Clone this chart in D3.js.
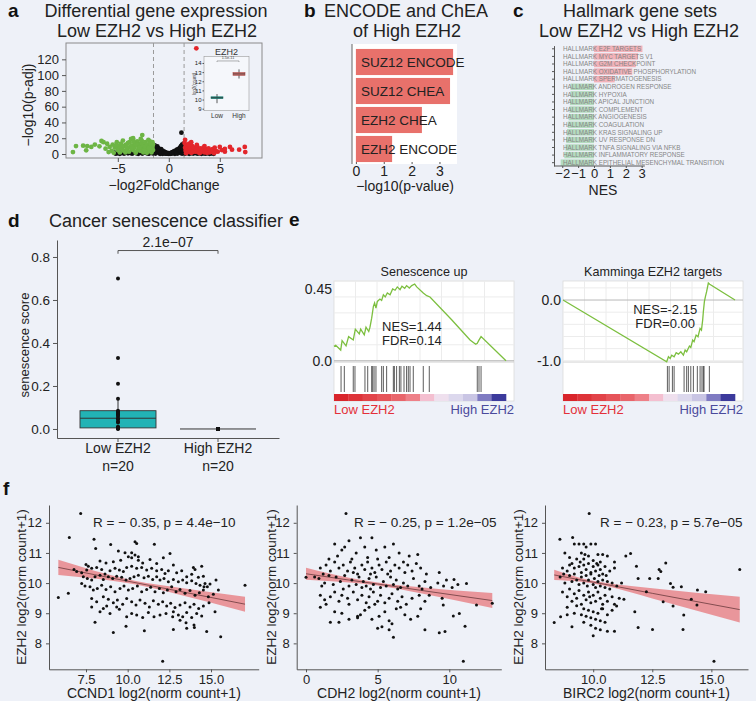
<!DOCTYPE html>
<html>
<head>
<meta charset="utf-8">
<script src="https://cdn.jsdelivr.net/npm/d3@7"></script>
<style>
body {margin:0; background:#eef1f8;}
svg {display:block;}
</style>
</head>
<body>
<svg id="figure"></svg>
<script>
// ---- panel a: volcano ----
var volcanoDown = [[-9.4,2.5],[-9.1,10],[-8.4,10.6],[-8.0,10],[-8.1,4.7],[-7.6,9],[-7.25,12],[-6.8,9.7],[-6.6,16.5],[-6.4,15],[-6.05,13],[-6.2,6.8],[-5.8,9],[-5.9,2.5],[-5.6,4],[-5.5,12],[-5.4,1.5],[-5.3,8],[-5.1,15],[-5.0,5],[-4.95,7.5],[-4.9,10],[-4.8,2],[-4.7,13],[-4.6,7],[-4.5,17],[-4.4,4],[-4.3,10],[-4.25,2],[-4.2,12],[-4.1,6],[-4.0,14],[-3.9,3],[-3.85,15],[-3.8,9],[-3.7,19],[-3.6,11],[-3.5,5],[-3.5,20],[-3.4,8],[-3.3,13],[-3.25,1.5],[-3.2,3],[-3.1,16],[-3.0,6],[-3.0,10],[-2.9,12],[-2.8,4],[-2.75,19],[-2.7,14],[-2.6,24],[-2.6,8],[-2.5,2],[-2.5,11],[-2.4,6],[-2.3,15],[-2.3,9],[-2.2,3],[-2.15,1.5],[-2.1,12],[-2.0,7],[-2.0,18],[-1.9,4],[-1.9,10],[-1.85,16],[-1.8,13],[-1.7,6],[-1.7,2],[-1.6,9],[-1.6,15],[-1.55,5],[-1.55,12],[-4.15,8.5],[-3.65,7],[-3.15,11.5],[-2.85,8],[-2.35,4.5],[-1.95,7.5],[-4.55,10.5],[-5.15,11],[-3.45,16],[-2.65,17]]
var volcanoFlat = [[-5.2,0.4],[-5.0,1.0],[-4.8,0.3],[-4.6,1.5],[-4.4,0.5],[-4.2,2.0],[-4.0,0.8],[-3.8,1.6],[-3.6,0.4],[-3.4,2.4],[-3.2,1.0],[-3.0,0.3],[-2.8,1.8],[-2.6,0.6],[-2.4,2.6],[-2.2,1.2],[-2.0,0.4],[-1.8,2.0],[-1.6,0.8],[-1.5,9],[-1.45,6.5],[-1.42,3.5],[-1.38,11],[-1.32,1.8],[-1.25,8],[-1.2,5],[-1.12,9.5],[-1.05,3],[-1.0,7],[-0.95,1.2],[-0.9,5.5],[-0.82,3.8],[-0.75,6],[-0.7,2.2],[-0.62,4.2],[-0.55,1.5],[-0.5,3.2],[-0.42,0.8],[-0.35,2.3],[-0.28,1.2],[-0.2,0.4],[-0.12,1.4],[-0.05,0.2],[0.05,0.8],[0.12,0.3],[0.2,1.5],[0.28,0.6],[0.35,2.4],[0.42,1.2],[0.5,3.3],[0.58,1.8],[0.65,4.4],[0.72,2.6],[0.8,5.4],[0.88,3.4],[0.95,6.6],[1.0,1.5],[1.05,4.5],[1.1,8],[1.15,2.8],[1.2,10],[1.25,6],[1.3,12],[1.35,3.8],[1.4,8.5],[1.45,13],[1.24,27],[1.6,0.5],[1.8,1.4],[2.0,0.3],[2.2,1.0],[2.4,0.5],[2.6,1.3],[2.8,0.4],[3.0,1.1],[3.2,0.3],[3.4,0.9],[3.6,0.4],[3.8,1.2],[4.0,0.3],[4.2,0.8],[4.4,0.3],[-0.85,0.3],[0.85,0.6],[-1.3,0.5],[1.3,0.4],[-0.6,0.2],[0.6,0.3],[-4.9,2.5],[-4.3,1.2],[-3.7,2.8],[-3.1,2.2],[-2.5,1.6],[-1.9,0.9],[-1.7,3.2],[-1.55,4.5],[-1.48,1.2],[-1.35,6],[-1.18,3.5],[-1.08,6.2],[-0.98,4.2],[-0.88,2.5],[-0.78,1.4],[-0.68,3.3],[-0.46,2.0],[-0.32,0.6],[0.32,1.0],[0.46,2.1],[0.68,3.4],[0.78,1.6],[0.92,4.6],[1.02,5.8],[1.12,6.5],[1.18,4.2],[1.32,9.5],[1.38,6.2],[1.48,10.5],[1.42,4.6],[1.7,2.4],[2.3,2.0],[2.9,1.8],[3.5,1.6],[4.1,1.4],[-5.3,1.8]]
var volcanoUp = [[1.55,14],[1.6,8],[1.65,4],[1.7,11],[1.75,2],[1.8,6],[1.9,9],[2.0,3],[2.0,13],[2.1,7],[2.2,1.5],[2.3,10],[2.4,5],[2.5,8],[2.6,3],[2.7,134],[2.7,6],[2.8,9],[2.9,2],[3.0,5],[3.1,7],[3.2,3],[3.3,5.5],[3.4,8],[3.5,2],[3.6,4],[3.7,6],[3.8,3],[3.9,7],[4.0,2],[4.1,5],[4.2,3],[4.3,6],[4.4,2],[4.6,4],[4.8,3],[5.0,9],[5.2,5],[5.5,3],[6.0,9],[6.2,5.5],[6.9,5.5],[7.45,9],[7.5,2.5],[1.6,18],[1.9,12],[2.2,15],[4.5,8],[3.5,10],[2.75,11.5],[1.7,1],[2.35,2.5],[3.05,1.2],[3.75,1.5],[4.45,1.0],[5.5,6.5]]
var volcanoCutoffs = [-1.5, 1.5]
var volcanoTicksX = [-5, 0, 5]
var volcanoTicksY = [0, 20, 40, 60, 80, 100, 120]

var insetGroups = ["Low", "High"]
var insetMin = [9.6, 12.3]
var insetQ1 = [10.1, 12.65]
var insetMedian = [10.2, 12.8]
var insetQ3 = [10.3, 12.95]
var insetMax = [10.6, 13.3]
var insetTicks = [9, 10, 11, 12, 13, 14]

// ---- panel b ----
var enrichTerms = ["SUZ12 ENCODE", "SUZ12 CHEA", "EZH2 CHEA", "EZH2 ENCODE"]
var enrichValues = [3.49, 3.38, 2.37, 1.3]
var enrichTicks = [0, 1, 2, 3]

// ---- panel c ----
var hallmarkSets = ["HALLMARK E2F TARGETS","HALLMARK MYC TARGETS V1","HALLMARK G2M CHECKPOINT","HALLMARK OXIDATIVE PHOSPHORYLATION","HALLMARK SPERMATOGENESIS","HALLMARK ANDROGEN RESPONSE","HALLMARK HYPOXIA","HALLMARK APICAL JUNCTION","HALLMARK COMPLEMENT","HALLMARK ANGIOGENESIS","HALLMARK COAGULATION","HALLMARK KRAS SIGNALING UP","HALLMARK UV RESPONSE DN","HALLMARK TNFA SIGNALING VIA NFKB","HALLMARK INFLAMMATORY RESPONSE","HALLMARK EPITHELIAL MESENCHYMAL TRANSITION"]
var hallmarkNES = [3.05, 2.77, 2.63, 2.41, 1.3, -1.48, -1.48, -1.52, -1.55, -1.6, -1.65, -1.7, -1.75, -1.8, -1.87, -2.1]
var nesTicks = [-2, -1, 0, 1, 2, 3]

// ---- panel d ----
var senescenceGroups = ["Low EZH2", "High EZH2"]
var senescenceLow = [0.70,0.33,0.21,0.14,0.085,0.08,0.075,0.07,0.065,0.06,0.05,0.045,0.035,0.03,0.01,0.008,0.005,0.003,0.002,0.0]
var senescenceHigh = [0,0,0,0,0,0,0,0,0,0,0,0,0,0,0,0,0,0,0,0]
var senescenceBox = [[0, 0.005, 0.05, 0.085, 0.14], [0, 0, 0, 0, 0]]
var senescenceTicks = [0, 0.2, 0.4, 0.6, 0.8]

// ---- panel e ----
var gseaUpCurve = [[0,0.09],[1.0,0.097],[3.9,0.067],[4.7,0.126],[7.0,0.093],[8.5,0.151],[11.2,0.130],[12.4,0.198],[14.7,0.168],[15.5,0.198],[17.6,0.162],[18.6,0.210],[20.2,0.183],[20.9,0.210],[21.9,0.267],[22.9,0.341],[23.6,0.362],[24.4,0.330],[25.2,0.372],[26.7,0.387],[27.7,0.378],[28.7,0.414],[29.8,0.400],[31.0,0.425],[32.6,0.414],[34.1,0.450],[35.5,0.442],[36.8,0.463],[38.4,0.446],[39.5,0.467],[41.1,0.454],[42.2,0.471],[43.8,0.456],[45.2,0.471],[46.9,0.481],[48.1,0.463],[51.9,0.425],[53.9,0.408],[55.8,0.400],[68.4,0.257],[79.1,0.130],[82.4,0.103],[83.3,0.109],[84.1,0.126],[85.5,0.151],[100,0]]
var gseaUpHits = [4.1,6.0,11.2,12.2,18.0,19.6,21.9,22.5,23.3,24.4,27.7,28.7,30.6,34.5,35.1,36.4,38.0,38.9,40.7,42.2,43.2,44.2,46.1,51.9,55.4,83.3,84.3,85.5]
var gseaEzh2Curve = [[0,0],[60.3,-1.016],[61.3,-0.934],[62.3,-0.962],[63.2,-0.907],[64.6,-0.934],[65.8,-0.868],[67.1,-0.890],[68.5,-0.852],[70.0,-0.907],[71.0,-0.824],[71.9,-0.852],[73.5,-0.758],[74.3,-0.780],[75.4,-0.659],[76.2,-0.687],[77.4,-0.577],[78.5,-0.604],[79.7,-0.467],[80.5,-0.495],[81.2,-0.330],[81.6,-0.192],[82.2,-0.027],[82.8,0.055],[83.5,0.137],[84.5,0.28],[85.3,0.26],[100,0]]
var gseaEzh2Hits = [60.7,61.7,63.6,64.6,70.4,71.9,72.9,74.3,75.8,78.1,79.7,80.8,81.6,82.0,85.1]
var rankColors = ["#d9252b","#de3339","#e24349","#e65459","#e9656b","#ee8088","#f4bfd0","#efe0ee","#dcd8ed","#c9c5e4","#7f7bc2","#3c3a9c"]

// ---- panel f ----
var ccnd1Points = [[7.18,12.31],[6.50,11.51],[7.98,11.45],[8.08,11.15],[8.98,11.28],[10.44,11.37],[10.54,11.31],[11.60,11.29],[9.44,11.06],[9.84,11.01],[10.24,11.01],[10.44,10.93],[10.04,10.87],[10.24,10.84],[10.64,10.87],[8.34,10.73],[8.70,10.67],[9.14,10.71],[9.58,10.76],[10.64,10.76],[10.90,10.67],[11.34,10.78],[11.74,10.65],[12.14,10.84],[12.54,10.98],[12.74,10.60],[13.94,10.52],[14.04,10.45],[14.44,10.56],[7.50,10.62],[7.64,10.56],[6.78,10.45],[6.94,10.38],[7.24,10.34],[7.54,10.43],[7.84,10.49],[8.14,10.52],[8.44,10.45],[8.64,10.30],[8.94,10.41],[9.24,10.49],[9.50,10.43],[9.74,10.38],[9.94,10.52],[10.24,10.56],[10.54,10.49],[10.84,10.52],[11.14,10.43],[11.44,10.49],[11.74,10.41],[12.04,10.45],[12.24,10.32],[12.44,10.41],[12.94,10.34],[13.24,10.41],[13.54,10.21],[13.84,10.29],[14.24,10.19],[14.54,10.23],[14.64,9.99],[14.78,9.88],[7.34,10.21],[7.58,10.15],[7.84,10.10],[8.04,10.21],[8.34,10.26],[8.54,10.12],[8.84,10.21],[9.10,10.15],[9.34,10.23],[9.64,10.19],[9.90,10.10],[10.14,10.15],[10.38,10.21],[10.64,10.26],[10.98,10.18],[11.24,10.23],[11.50,10.12],[11.74,10.21],[11.94,10.10],[12.18,10.15],[12.44,10.04],[12.74,10.12],[13.04,10.04],[13.30,10.10],[13.54,10.01],[13.84,10.08],[14.10,9.99],[14.34,9.93],[14.58,9.88],[14.94,9.97],[15.30,10.10],[15.44,9.77],[17.04,9.93],[5.84,9.52],[6.44,9.66],[7.24,9.99],[7.44,9.90],[7.74,9.88],[7.94,9.77],[8.18,9.82],[8.44,9.93],[8.70,9.79],[8.98,9.88],[9.24,9.71],[9.54,9.82],[9.78,9.90],[10.04,9.77],[10.30,9.82],[10.58,9.90],[10.84,9.71],[11.14,9.79],[11.38,9.86],[11.64,9.71],[11.90,9.82],[12.14,9.68],[12.38,9.77],[12.64,9.88],[12.90,9.71],[13.14,9.79],[13.44,9.66],[13.74,9.75],[14.04,9.60],[14.30,9.68],[14.54,9.77],[14.84,9.55],[15.14,9.63],[7.84,9.49],[8.14,9.38],[8.54,9.55],[8.84,9.46],[9.14,9.35],[9.38,9.44],[9.70,9.30],[9.94,9.49],[10.24,9.38],[10.50,9.27],[10.74,9.44],[11.04,9.33],[11.30,9.21],[11.54,9.41],[11.84,9.30],[12.10,9.38],[12.34,9.24],[12.58,9.33],[12.84,9.19],[13.14,9.27],[13.44,9.35],[13.74,9.21],[13.98,9.30],[14.26,9.16],[14.54,9.24],[14.88,9.35],[12.74,9.05],[13.04,8.94],[13.30,8.88],[13.54,9.02],[13.84,8.86],[14.14,8.99],[14.44,8.91],[15.24,9.05],[11.94,8.94],[11.58,8.88],[11.24,9.02],[10.90,8.86],[10.54,8.94],[10.24,8.99],[9.94,8.88],[9.34,9.21],[9.50,9.13],[8.94,8.99],[8.34,9.05],[7.84,9.21],[8.04,8.70],[9.14,8.36],[9.90,8.57],[11.00,8.42],[12.30,8.99],[12.70,8.88],[13.14,8.77],[13.50,8.68],[13.98,8.61],[14.00,8.53],[12.74,8.46],[13.54,8.50],[14.74,8.39],[15.58,8.22],[12.10,7.41],[8.54,9.16],[8.74,9.24]]
var cdh2Points = [[2.79,12.31],[0,10.19],[13.0,9.33],[10.98,7.41],[11.9,9.27],[11.1,8.57],[10.28,8.91],[9.7,8.39],[9.58,9.27],[10.7,8.99],[11.2,9.99],[10.33,10.12],[2.0,11.3],[2.5,11.1],[3.0,11.4],[3.5,11.0],[3.8,11.5],[4.1,11.2],[4.6,11.5],[4.9,11.1],[5.5,11.2],[6.1,11.3],[6.5,11.0],[7.2,10.9],[7.8,10.95],[1.6,10.8],[2.2,10.9],[3.2,10.8],[4.3,10.85],[5.0,10.8],[5.8,10.85],[2.7,11.2],[1.0,10.5],[1.4,10.6],[1.7,10.4],[2.0,10.7],[2.3,10.5],[2.6,10.6],[2.9,10.4],[3.1,10.7],[3.4,10.5],[3.6,10.3],[3.9,10.6],[4.1,10.45],[4.3,10.7],[4.6,10.5],[4.8,10.35],[5.1,10.6],[5.3,10.45],[5.6,10.7],[5.9,10.4],[6.2,10.6],[6.5,10.5],[6.8,10.7],[7.1,10.6],[7.4,10.4],[7.7,10.65],[8.0,10.5],[8.4,10.3],[9.3,10.35],[9.8,10.1],[1.2,10.3],[3.3,10.35],[4.5,10.3],[5.7,10.3],[6.9,10.35],[0.6,10.2],[0.9,10.15],[1.3,10.0],[1.6,10.25],[1.9,9.95],[2.1,10.2],[2.4,10.05],[2.7,10.25],[3.0,9.9],[3.2,10.1],[3.5,9.95],[3.7,10.2],[3.9,9.85],[4.0,10.05],[4.2,9.9],[4.4,10.15],[4.7,9.95],[4.9,10.2],[5.2,9.85],[5.4,10.05],[5.6,9.9],[5.9,10.2],[6.1,9.95],[6.3,10.1],[6.6,9.85],[6.8,10.0],[7.1,9.9],[7.5,10.15],[7.9,9.9],[8.3,10.05],[8.7,9.85],[9.2,10.0],[9.6,9.9],[10.2,9.85],[10.6,9.95],[1.1,9.9],[2.6,9.8],[4.5,9.8],[6.4,9.8],[8.1,9.8],[1.0,9.6],[1.3,9.45],[1.7,9.55],[2.0,9.7],[2.3,9.4],[2.5,9.6],[2.9,9.5],[3.3,9.7],[3.6,9.45],[3.9,9.6],[4.2,9.35],[4.4,9.55],[4.7,9.7],[5.0,9.4],[5.2,9.6],[5.5,9.35],[5.8,9.5],[6.0,9.65],[6.4,9.4],[6.7,9.55],[7.0,9.3],[7.4,9.5],[7.9,9.6],[8.3,9.4],[8.6,9.6],[9.5,9.5],[1.4,9.3],[3.0,9.3],[4.8,9.3],[1.0,9.2],[1.7,8.7],[2.3,8.7],[2.5,9.0],[3.0,8.8],[3.6,8.9],[3.8,8.95],[4.1,9.1],[4.4,9.2],[5.1,8.9],[5.3,8.55],[5.5,9.05],[5.8,8.75],[6.0,8.65],[6.3,9.15],[6.9,8.95],[7.3,8.8],[7.8,8.9],[8.0,9.15],[2.0,9.05],[6.6,9.2],[4.6,8.8],[6.1,8.2],[5.8,8.45],[5.0,8.5],[8.3,8.45],[9.3,8.35],[3.6,8.85]]
var birc2Points = [[9.83,12.31],[8.35,8.69],[8.62,8.88],[8.59,11.45],[9.13,11.51],[16.2,10.45],[11.38,10.9],[11.58,10.98],[11.83,10.56],[11.9,10.15],[12.25,9.71],[12.39,10.15],[12.79,10.45],[12.86,10.38],[12.75,10.15],[13.07,10.67],[12.96,9.38],[13.27,9.99],[13.38,9.86],[13.38,9.24],[13.73,9.88],[13.83,8.94],[13.8,8.46],[14.15,9.46],[14.39,9.27],[14.41,9.77],[14.76,9.71],[15.11,7.41],[11.9,8.53],[12.51,8.46],[11.76,9.05],[11.3,9.46],[10.99,9.24],[8.8,11.0],[9.0,10.6],[9.2,11.3],[9.4,11.3],[9.6,11.3],[9.7,11.2],[9.9,11.3],[10.1,11.3],[9.5,11.0],[9.8,10.9],[10.2,10.95],[10.4,10.95],[9.3,10.8],[9.6,10.8],[10.0,10.75],[10.3,10.7],[10.6,10.9],[8.7,10.5],[8.9,10.4],[9.1,10.65],[9.2,10.5],[9.4,10.55],[9.5,10.35],[9.6,10.6],[9.7,10.45],[9.8,10.65],[9.9,10.35],[10.0,10.55],[10.1,10.4],[10.2,10.6],[10.3,10.45],[10.4,10.3],[10.5,10.55],[10.7,10.4],[10.9,10.5],[8.6,10.2],[8.8,10.0],[9.0,10.25],[9.1,10.05],[9.2,10.3],[9.3,10.1],[9.4,9.95],[9.5,10.2],[9.6,10.0],[9.7,10.25],[9.75,9.9],[9.8,10.1],[9.9,10.3],[10.0,9.95],[10.05,10.15],[10.1,9.85],[10.2,10.05],[10.25,10.25],[10.3,9.9],[10.4,10.1],[10.5,9.85],[10.6,10.05],[10.7,9.8],[10.8,10.0],[11.0,9.9],[8.7,9.7],[8.9,9.55],[9.0,9.8],[9.1,9.4],[9.2,9.65],[9.3,9.5],[9.4,9.75],[9.5,9.3],[9.6,9.6],[9.7,9.45],[9.8,9.7],[9.9,9.35],[10.0,9.6],[10.1,9.4],[10.2,9.7],[10.3,9.5],[10.4,9.3],[10.5,9.6],[10.6,9.4],[10.8,9.55],[10.9,9.3],[11.1,9.5],[8.9,9.2],[9.2,9.0],[9.3,9.25],[9.5,8.95],[9.6,9.15],[9.7,8.9],[9.8,9.1],[9.9,8.85],[10.0,9.05],[10.1,8.8],[10.2,9.0],[10.3,8.75],[10.4,9.15],[10.5,8.7],[10.6,8.95],[10.8,9.1],[9.1,8.55],[9.6,8.7],[9.9,8.6],[10.1,8.5],[10.3,8.45],[10.6,8.4],[10.0,8.25],[10.9,8.4],[8.9,8.95],[11.2,10.0],[10.9,10.7],[9.0,10.85],[8.75,10.3],[9.45,10.7],[10.15,10.65],[10.35,9.15],[9.65,10.95],[9.85,9.55],[10.55,10.25]]
// [x, fitted value, half width of confidence band]
var ccnd1Fit = [[5.84,10.52,0.25],[8,10.28,0.13],[10.5,10.01,0.06],[13,9.74,0.11],[17.04,9.30,0.25]]
var cdh2Fit = [[0,10.31,0.2],[3,10.10,0.08],[5,9.97,0.05],[8,9.76,0.1],[13,9.42,0.25]]
var birc2Fit = [[8.35,10.27,0.17],[9.5,10.10,0.06],[10.5,9.96,0.05],[12.5,9.66,0.17],[16.2,9.12,0.43]]
var scatterTicksY = [8, 9, 10, 11, 12]

var fontFamily = "'Liberation Sans', Arial, Helvetica, sans-serif"
var ink = "#222"
var intFormat = d3.format("d")

var svg = d3.select("#figure")
.attr("width", 756)
.attr("height", 701)
.attr("font-family", fontFamily)

svg.append("rect")
.attr("width", 756)
.attr("height", 701)
.attr("fill", "#eef1f8")

var addText = function(parent, x, y, content, size, anchor)
{
    return parent.append("text")
    .attr("x", x)
    .attr("y", y)
    .attr("font-size", size)
    .attr("text-anchor", anchor || "start")
    .attr("fill", ink)
    .text(content)
}

var addRotated = function(parent, x, y, content, size)
{
    return parent.append("text")
    .attr("transform", "translate(" + x + "," + y + ") rotate(-90)")
    .attr("font-size", size)
    .attr("text-anchor", "middle")
    .attr("fill", ink)
    .text(content)
}

var styleAxis = function(g, size)
{
    g.attr("font-family", fontFamily).attr("font-size", size)
    g.selectAll(".tick text").attr("fill", ink)
    g.selectAll(".tick line").attr("stroke", "#555")
    g.selectAll(".domain").attr("stroke", "#555")
}

var panelLetter = function(letter, x, y)
{
    addText(svg, x, y, letter, 19).attr("font-weight", "bold").attr("fill", "#111")
}

var drawVolcano = function()
{
    var g = svg.append("g").attr("id", "volcano")
    var x = d3.scaleLinear().domain([-10.08, 9.14]).range([66, 262])
    var y = d3.scaleLinear().domain([-5.07, 140.7]).range([158, 43])

    g.append("rect")
    .attr("x", x.range()[0]).attr("y", y.range()[1])
    .attr("width", x.range()[1] - x.range()[0])
    .attr("height", y.range()[0] - y.range()[1])
    .attr("fill", "none")
    .attr("stroke", "#8a8a8a")

    g.selectAll("line.cut")
    .data(volcanoCutoffs)
    .enter()
    .append("line")
    .attr("x1", function(d) { return x(d) })
    .attr("x2", function(d) { return x(d) })
    .attr("y1", y.range()[1])
    .attr("y2", y.range()[0])
    .attr("stroke", "#9a9a9a")
    .attr("stroke-dasharray", "4,3")

    var groups = [[volcanoFlat, "#111"], [volcanoDown, "#6db545"], [volcanoUp, "#e3262b"]]
    groups.forEach(function(group)
    {
        g.append("g")
        .selectAll("circle")
        .data(group[0])
        .enter()
        .append("circle")
        .attr("cx", function(d) { return x(d[0]) })
        .attr("cy", function(d) { return y(d[1]) })
        .attr("r", 2.4)
        .attr("fill", group[1])
    })

    var xAxis = g.append("g")
    .attr("transform", "translate(0," + y.range()[0] + ")")
    .call(d3.axisBottom(x).tickValues(volcanoTicksX).tickFormat(intFormat).tickSize(4).tickPadding(2).tickSizeOuter(0))
    xAxis.select(".domain").remove()
    styleAxis(xAxis, 13)

    var yAxis = g.append("g")
    .attr("transform", "translate(" + x.range()[0] + ",0)")
    .call(d3.axisLeft(y).tickValues(volcanoTicksY).tickFormat(intFormat).tickSize(4).tickSizeOuter(0))
    yAxis.select(".domain").remove()
    styleAxis(yAxis, 13)

    addRotated(g, 33, 105, "\u2212log10(p-adj)", 14)
    addText(g, 164, 190, "\u2212log2FoldChange", 14, "middle")

    // inset box plot
    var ix = d3.scalePoint().domain(insetGroups).range([217, 239])
    var iy = d3.scaleLinear().domain([8.78, 14.73]).range([110.7, 56.3])
    var inset = g.append("g").attr("id", "inset")
    inset.append("rect")
    .attr("x", 204).attr("y", iy.range()[1])
    .attr("width", 45)
    .attr("height", iy.range()[0] - iy.range()[1])
    .attr("fill", "#f5f7fb")
    .attr("stroke", "#999")
    .attr("stroke-width", 0.6)

    var insetColors = ["#1e9d8f", "#d8706c"]
    inset.selectAll("line.whisker")
    .data(insetGroups)
    .enter()
    .append("line")
    .attr("x1", function(d) { return ix(d) })
    .attr("x2", function(d) { return ix(d) })
    .attr("y1", function(d, i) { return iy(insetMin[i]) })
    .attr("y2", function(d, i) { return iy(insetMax[i]) })
    .attr("stroke", "#333")
    .attr("stroke-width", 0.8)

    inset.selectAll("rect.box")
    .data(insetGroups)
    .enter()
    .append("rect")
    .attr("x", function(d) { return ix(d) - 6 })
    .attr("y", function(d, i) { return iy(insetQ3[i]) })
    .attr("width", 12)
    .attr("height", function(d, i) { return iy(insetQ1[i]) - iy(insetQ3[i]) })
    .attr("fill", function(d, i) { return insetColors[i] })
    .attr("stroke", function(d, i) { return i == 0 ? "#17786d" : "#a84c48" })
    .attr("stroke-width", 0.6)

    inset.selectAll("line.median")
    .data(insetGroups)
    .enter()
    .append("line")
    .attr("x1", function(d) { return ix(d) - 6 })
    .attr("x2", function(d) { return ix(d) + 6 })
    .attr("y1", function(d, i) { return iy(insetMedian[i]) })
    .attr("y2", function(d, i) { return iy(insetMedian[i]) })
    .attr("stroke", "#333")
    .attr("stroke-width", 0.8)

    var iAxis = inset.append("g")
    .attr("transform", "translate(204,0)")
    .call(d3.axisLeft(iy).tickValues(insetTicks).tickFormat(intFormat).tickSize(1.5).tickPadding(1).tickSizeOuter(0))
    iAxis.select(".domain").remove()
    styleAxis(iAxis, 6)

    inset.selectAll("text.group")
    .data(insetGroups)
    .enter()
    .append("text")
    .attr("x", function(d) { return ix(d) })
    .attr("y", 118)
    .attr("font-size", 6.5)
    .attr("text-anchor", "middle")
    .attr("fill", "#333")
    .text(function(d) { return d })

    addText(inset, 226.5, 54.5, "EZH2", 9, "middle").attr("fill", "#333")
    addRotated(inset, 195.5, 84, "log2(count)", 4.5).attr("fill", "#444")
    inset.append("path")
    .attr("d", "M" + ix("Low") + "," + iy(14.1) + "V" + iy(14.22) + "H" + ix("High") + "V" + iy(14.1))
    .attr("fill", "none")
    .attr("stroke", "#666")
    .attr("stroke-width", 0.5)
    addText(inset, 228, iy(14.42), "1.5e-11", 3.8, "middle").attr("fill", "#444")
}

var drawEnrich = function()
{
    var g = svg.append("g").attr("id", "enrich")
    var x = d3.scaleLinear().domain([-0.14, 3.63]).range([352, 457])
    var y = d3.scaleBand().domain(enrichTerms).range([47.5, 163.5]).paddingInner(0.1).paddingOuter(0.05)

    g.append("rect")
    .attr("x", 352).attr("y", 44)
    .attr("width", 105).attr("height", 120)
    .attr("fill", "#ffffff")

    g.selectAll("rect.bar")
    .data(enrichTerms)
    .enter()
    .append("rect")
    .attr("x", x(0))
    .attr("y", function(d) { return y(d) })
    .attr("width", function(d, i) { return x(enrichValues[i]) - x(0) })
    .attr("height", y.bandwidth())
    .attr("fill", "#e8716b")

    g.selectAll("text.term")
    .data(enrichTerms)
    .enter()
    .append("text")
    .attr("x", x(0) + 5)
    .attr("y", function(d) { return y(d) + y.bandwidth() / 2 })
    .attr("dy", "0.36em")
    .attr("font-size", 13.5)
    .attr("fill", ink)
    .text(function(d) { return d })

    g.append("line")
    .attr("x1", 352).attr("x2", 352)
    .attr("y1", 44).attr("y2", 164)
    .attr("stroke", "#666")

    var xAxis = g.append("g")
    .attr("transform", "translate(0,162)")
    .call(d3.axisBottom(x).tickValues(enrichTicks).tickFormat(intFormat).tickSize(2).tickPadding(2).tickSizeOuter(0))
    xAxis.select(".domain").remove()
    styleAxis(xAxis, 14)

    addText(g, 405, 191, "\u2212log10(p-value)", 14, "middle")
}

var drawHallmark = function()
{
    var g = svg.append("g").attr("id", "hallmark")
    var x = d3.scaleLinear().domain([-2.52, 3.4]).range([554, 648])
    var y = d3.scaleBand().domain(hallmarkSets).range([45.6, 165.9]).paddingInner(0.15).paddingOuter(0)

    g.selectAll("rect.nes")
    .data(hallmarkSets)
    .enter()
    .append("rect")
    .attr("x", function(d, i) { return x(Math.min(0, hallmarkNES[i])) })
    .attr("y", function(d) { return y(d) })
    .attr("width", function(d, i) { return Math.abs(x(hallmarkNES[i]) - x(0)) })
    .attr("height", y.bandwidth())
    .attr("fill", function(d, i) { return hallmarkNES[i] > 0 ? "#f2b2b9" : "#b4dbbf" })

    g.selectAll("text.set")
    .data(hallmarkSets)
    .enter()
    .append("text")
    .attr("x", 563)
    .attr("y", function(d) { return y(d) + y.bandwidth() / 2 })
    .attr("dy", "0.36em")
    .attr("font-size", 6.3)
    .attr("fill", "#858585")
    .text(function(d) { return d })

    var yAxis = g.append("g")
    .attr("transform", "translate(554,0)")
    .call(d3.axisLeft(y).tickSize(2).tickFormat("").tickSizeOuter(0))
    styleAxis(yAxis, 6)

    var xAxis = g.append("g")
    .attr("transform", "translate(0,166)")
    .call(d3.axisBottom(x).tickValues(nesTicks).tickFormat(intFormat).tickSize(2).tickPadding(1).tickSizeOuter(0))
    styleAxis(xAxis, 13)
    xAxis.select(".domain").attr("d", "M" + x.range()[0] + ",0H" + x(3.2))

    addText(g, 603, 195, "NES", 14, "middle")
}

var drawSenescence = function()
{
    var g = svg.append("g").attr("id", "senescence")
    var y = d3.scaleLinear().domain([-0.042, 0.879]).range([438, 240])
    var x = d3.scaleBand().domain(senescenceGroups).range([57, 279]).paddingInner(0.24).paddingOuter(0.23)
    var mid = function(d) { return x(d) + x.bandwidth() / 2 }

    senescenceGroups.forEach(function(group, i)
    {
        var s = senescenceBox[i]
        g.append("line")
        .attr("x1", mid(group)).attr("x2", mid(group))
        .attr("y1", y(s[0])).attr("y2", y(s[4]))
        .attr("stroke", "#333")
        g.append("rect")
        .attr("x", x(group))
        .attr("y", y(s[3]))
        .attr("width", x.bandwidth())
        .attr("height", y(s[1]) - y(s[3]))
        .attr("fill", "#22b3b5")
        .attr("stroke", "#333")
        .attr("stroke-width", 0.9)
        g.append("line")
        .attr("x1", x(group)).attr("x2", x(group) + x.bandwidth())
        .attr("y1", y(s[2])).attr("y2", y(s[2]))
        .attr("stroke", "#333")
        .attr("stroke-width", 1)
    })

    var points = [senescenceLow, senescenceHigh]
    points.forEach(function(values, i)
    {
        g.append("g")
        .selectAll("circle")
        .data(values)
        .enter()
        .append("circle")
        .attr("cx", mid(senescenceGroups[i]))
        .attr("cy", function(d) { return y(d) })
        .attr("r", 2)
        .attr("fill", "#111")
    })

    var yAxis = g.append("g")
    .attr("transform", "translate(57,0)")
    .call(d3.axisLeft(y).tickValues(senescenceTicks).tickFormat(d3.format(".1f")).tickSize(4).tickSizeOuter(0))
    styleAxis(yAxis, 13.5)

    var xAxis = g.append("g")
    .attr("transform", "translate(0,438)")
    .call(d3.axisBottom(x).tickSize(4).tickPadding(1).tickSizeOuter(0))
    styleAxis(xAxis, 14)

    g.selectAll("text.n")
    .data(senescenceGroups)
    .enter()
    .append("text")
    .attr("x", mid)
    .attr("y", 471)
    .attr("font-size", 14)
    .attr("text-anchor", "middle")
    .attr("fill", ink)
    .text("n=20")

    var a = mid(senescenceGroups[0])
    var b = mid(senescenceGroups[1])
    g.append("path")
    .attr("d", "M" + a + "," + y(0.815) + "V" + y(0.83) + "H" + b + "V" + y(0.815))
    .attr("fill", "none")
    .attr("stroke", "#555")
    addText(g, (a + b) / 2, y(0.848), "2.1e\u221207", 14, "middle")

    addRotated(g, 29, 345, "senescence score", 13)
}

var drawGsea = function(conf)
{
    var g = svg.append("g")
    var left = conf.left
    var right = left + 180
    var x = d3.scaleLinear().domain([0, 100]).range([left, left + 172])
    var y = d3.scaleLinear().domain(conf.esDomain).range([362, 281])

    g.append("rect")
    .attr("x", left).attr("y", 281)
    .attr("width", right - left).attr("height", 120)
    .attr("fill", "#ffffff")
    .attr("stroke", "#d6d6d6")
    .attr("stroke-width", 0.7)

    g.append("line")
    .attr("x1", left).attr("x2", right)
    .attr("y1", 362).attr("y2", 362)
    .attr("stroke", "#d0d0d0")

    g.selectAll("line.vgrid")
    .data(d3.range(12.5, 100, 12.5))
    .enter()
    .append("line")
    .attr("x1", function(d) { return x(d) })
    .attr("x2", function(d) { return x(d) })
    .attr("y1", 281).attr("y2", 362)
    .attr("stroke", "#ececec")

    g.selectAll("line.hgrid")
    .data(y.ticks(5))
    .enter()
    .append("line")
    .attr("x1", left).attr("x2", right)
    .attr("y1", function(d) { return y(d) })
    .attr("y2", function(d) { return y(d) })
    .attr("stroke", function(d) { return d == 0 ? "#b8b8b8" : "#ececec" })

    g.append("path")
    .datum(conf.curve)
    .attr("d", d3.line().x(function(d) { return x(d[0]) }).y(function(d) { return y(d[1]) }))
    .attr("fill", "none")
    .attr("stroke", "#7cbf3f")
    .attr("stroke-width", 1.3)

    g.selectAll("line.hit")
    .data(conf.hits)
    .enter()
    .append("line")
    .attr("x1", function(d) { return x(d) })
    .attr("x2", function(d) { return x(d) })
    .attr("y1", 366).attr("y2", 392)
    .attr("stroke", "#333")
    .attr("stroke-width", 0.8)

    var step = 100 / rankColors.length
    g.selectAll("rect.rank")
    .data(rankColors)
    .enter()
    .append("rect")
    .attr("x", function(d, i) { return x(i * step) })
    .attr("y", 394)
    .attr("width", x(step) - x(0) + 0.3)
    .attr("height", 7)
    .attr("fill", function(d) { return d })

    var yAxis = g.append("g")
    .attr("transform", "translate(" + left + ",0)")
    .call(d3.axisLeft(y).tickValues(conf.ticks).tickFormat(function(d) { return conf.tickText[conf.ticks.indexOf(d)] }).tickSize(0).tickPadding(2))
    yAxis.select(".domain").remove()
    styleAxis(yAxis, 14)

    addText(g, (left + right) / 2, 276, conf.title, 12.6, "middle")
    addText(g, x(conf.statAt[0]), y(conf.statAt[1]), conf.stats[0], 13, "middle")
    addText(g, x(conf.statAt[0]), y(conf.statAt[2]), conf.stats[1], 13, "middle")
    addText(g, left, 414, "Low EZH2", 13).attr("fill", "#e3303a")
    addText(g, right, 414, "High EZH2", 13, "end").attr("fill", "#4a4a9c")
}

var drawScatter = function(conf)
{
    var g = svg.append("g")
    var x = d3.scaleLinear().domain(conf.xDomain).range([conf.left, conf.right])
    var y = d3.scaleLinear().domain([7.14, 12.59]).range([669.3, 505])

    g.append("path")
    .datum(conf.fit)
    .attr("d", d3.area()
        .curve(d3.curveMonotoneX)
        .x(function(d) { return x(d[0]) })
        .y0(function(d) { return y(d[1] - d[2]) })
        .y1(function(d) { return y(d[1] + d[2]) }))
    .attr("fill", "#e8868b")
    .attr("opacity", 0.85)

    g.append("path")
    .datum(conf.fit)
    .attr("d", d3.line().x(function(d) { return x(d[0]) }).y(function(d) { return y(d[1]) }))
    .attr("fill", "none")
    .attr("stroke", "#6a3a3c")
    .attr("stroke-width", 0.8)

    g.append("g")
    .selectAll("circle")
    .data(conf.points)
    .enter()
    .append("circle")
    .attr("cx", function(d) { return x(d[0]) })
    .attr("cy", function(d) { return y(d[1]) })
    .attr("r", 1.5)
    .attr("fill", "#111")

    var xAxis = g.append("g")
    .attr("transform", "translate(0,669.3)")
    .call(d3.axisBottom(x).tickValues(conf.xTicks).tickFormat(d3.format(conf.xFormat)).tickSize(3).tickPadding(2).tickSizeOuter(0))
    styleAxis(xAxis, 13)

    var yAxis = g.append("g")
    .attr("transform", "translate(" + conf.left + ",0)")
    .call(d3.axisLeft(y).tickValues(scatterTicksY).tickFormat(intFormat).tickSize(3).tickPadding(4).tickSizeOuter(0))
    styleAxis(yAxis, 13)

    addText(g, (conf.left + conf.right) / 2, 698, conf.xLabel, 14, "middle")
    addRotated(g, conf.yLabelX, 587, "EZH2 log2(norm count+1)", 13.5)
    addText(g, conf.rX, 527, conf.rText, 13.5)
}

panelLetter("a", 8, 17)
addText(svg, 156, 17, "Differential gene expression", 18, "middle")
addText(svg, 157, 37, "Low EZH2 vs High EZH2", 18, "middle")
drawVolcano()

panelLetter("b", 304, 17)
addText(svg, 406, 17, "ENCODE and ChEA", 18, "middle")
addText(svg, 407, 37, "of High EZH2", 18, "middle")
drawEnrich()

panelLetter("c", 513, 17)
addText(svg, 640, 17, "Hallmark gene sets", 18, "middle")
addText(svg, 639, 37, "Low EZH2 vs High EZH2", 18, "middle")
drawHallmark()

panelLetter("d", 8, 227)
addText(svg, 49, 227, "Cancer senescence classifier", 18)
drawSenescence()

panelLetter("e", 289, 226)
drawGsea({left: 334, esDomain: [-0.008, 0.50], curve: gseaUpCurve, hits: gseaUpHits,
    ticks: [0, 0.45], tickText: ["0.0", "0.45"], title: "Senescence up",
    stats: ["NES=1.44", "FDR=0.14"], statAt: [45.3, 0.186, 0.099]})
drawGsea({left: 563, esDomain: [-1.02, 0.313], curve: gseaEzh2Curve, hits: gseaEzh2Hits,
    ticks: [-1, 0], tickText: ["-1.0", "0.0"], title: "Kamminga EZH2 targets",
    stats: ["NES=-2.15", "FDR=0.00"], statAt: [59.4, -0.23, -0.46]})

panelLetter("f", 3, 495)
drawScatter({points: ccnd1Points, fit: ccnd1Fit, left: 49, right: 258.7, xDomain: [5.28, 17.86],
    xTicks: [7.5, 10, 12.5, 15], xFormat: ".1f", xLabel: "CCND1 log2(norm count+1)",
    yLabelX: 26, rX: 93, rText: "R = \u2212 0.35, p = 4.4e\u221210"})
drawScatter({points: cdh2Points, fit: cdh2Fit, left: 296.7, right: 501.3, xDomain: [-0.65, 13.63],
    xTicks: [0, 5, 10], xFormat: "d", xLabel: "CDH2 log2(norm count+1)",
    yLabelX: 276, rX: 354, rText: "R = \u2212 0.25, p = 1.2e\u221205"})
drawScatter({points: birc2Points, fit: birc2Fit, left: 545, right: 748, xDomain: [7.96, 16.55],
    xTicks: [10, 12.5, 15], xFormat: ".1f", xLabel: "BIRC2 log2(norm count+1)",
    yLabelX: 523, rX: 600, rText: "R = \u2212 0.23, p = 5.7e\u221205"})
</script>
</body>
</html>
